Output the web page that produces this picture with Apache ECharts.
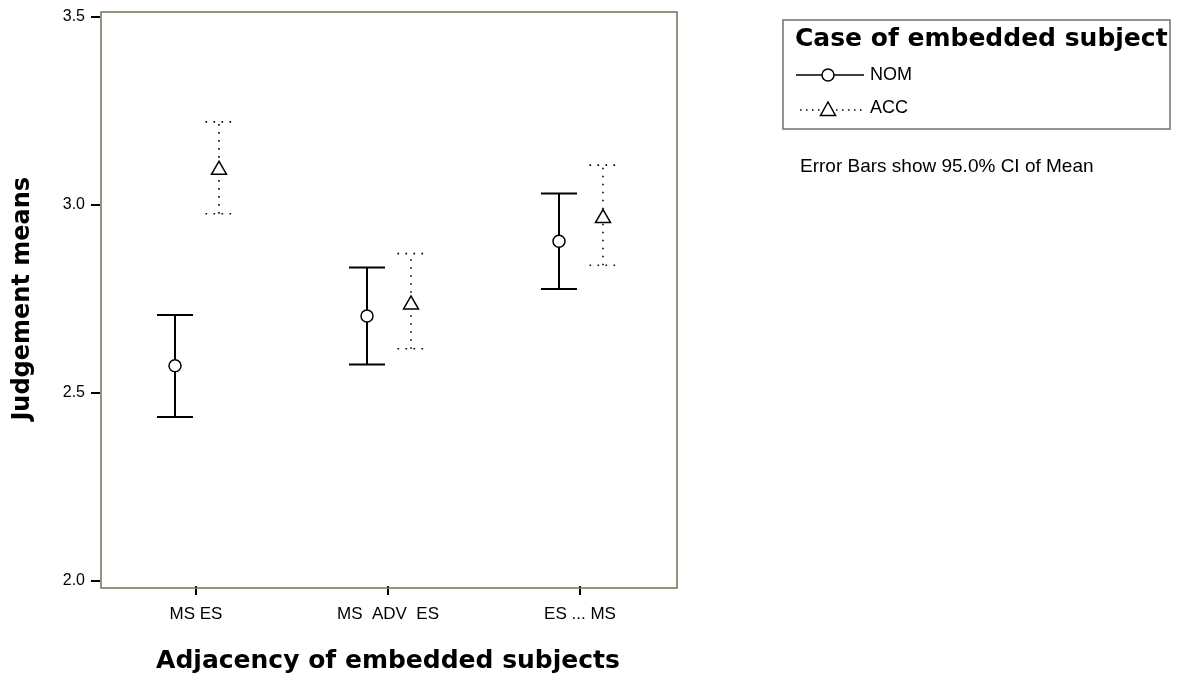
<!DOCTYPE html>
<html>
<head>
<meta charset="utf-8">
<script src="https://cdn.jsdelivr.net/npm/echarts@6/dist/echarts.min.js"></script>
<style>html,body{margin:0;padding:0;background:#fff;}#c{width:1197px;height:679px;}</style>
</head>
<body>
<div id="c"></div>
<script>
var categories = ['MS ES', 'MS  ADV  ES', 'ES ... MS'];
var nomMean = [2.572, 2.704, 2.903];
var nomLow  = [2.436, 2.575, 2.776];
var nomHigh = [2.707, 2.833, 3.030];
var accMean = [3.098, 2.740, 2.970];
var accLow  = [2.976, 2.617, 2.839];
var accHigh = [3.220, 2.870, 3.105];
var yTicks = [2.0, 2.5, 3.0, 3.5];
var seriesNames = ['NOM', 'ACC'];
var legendTitle = 'Case of embedded subject';
var noteText = 'Error Bars show 95.0% CI of Mean';
var xTitle = 'Adjacency of embedded subjects';
var yTitle = 'Judgement means';

var chart = echarts.init(document.getElementById('c'), null, {renderer: 'canvas'});

function errRender(offset, dashed, capHalf) {
  return function (params, api) {
    var lo = api.coord([api.value(0), api.value(1)]);
    var hi = api.coord([api.value(0), api.value(2)]);
    var cx = lo[0] + offset;
    var style = {stroke: '#000', lineWidth: dashed ? 1.6 : 2, fill: null};
    if (dashed) style.lineDash = [1.6, 6.4];
    return {type: 'group', children: [
      {type: 'line', shape: {x1: cx, y1: lo[1], x2: cx, y2: hi[1]}, style: style},
      {type: 'line', shape: {x1: cx - capHalf, y1: hi[1], x2: cx + capHalf, y2: hi[1]}, style: style},
      {type: 'line', shape: {x1: cx - capHalf, y1: lo[1], x2: cx + capHalf, y2: lo[1]}, style: style}
    ]};
  };
}

var smallFont = '"Liberation Sans", Arial, sans-serif';
var boldFont = '"DejaVu Sans", sans-serif';

var option = {
  animation: false,
  backgroundColor: '#fff',
  grid: {left: 100, right: 521, top: 16.5, bottom: 96, containLabel: false},
  xAxis: {
    type: 'category',
    data: categories,
    offset: 5,
    boundaryGap: true,
    axisLine: {show: false},
    axisTick: {show: true, alignWithLabel: true, length: 9, lineStyle: {color: '#000', width: 2}},
    axisLabel: {margin: 20, color: '#000', fontSize: 17, fontFamily: smallFont},
    splitLine: {show: false},
    name: xTitle,
    nameLocation: 'middle',
    nameGap: 63,
    nameTextStyle: {fontSize: 25, fontWeight: 'bold', fontFamily: boldFont, color: '#000'}
  },
  yAxis: {
    type: 'value',
    min: 2.0, max: 3.5, interval: 0.5,
    axisLine: {show: false},
    axisTick: {show: true, length: 9, lineStyle: {color: '#000', width: 2}},
    axisLabel: {margin: 15, color: '#000', fontSize: 16, fontFamily: smallFont,
      formatter: function (v) { return v.toFixed(1); }},
    splitLine: {show: false},
    name: yTitle,
    nameLocation: 'middle',
    nameRotate: 90,
    nameGap: 65,
    nameTextStyle: {fontSize: 24, fontWeight: 'bold', fontFamily: boldFont, color: '#000'}
  },
  series: [
    {type: 'custom', name: 'NOM CI', renderItem: errRender(-21, false, 18),
      data: categories.map(function (c, i) { return [i, nomLow[i], nomHigh[i]]; }), z: 2},
    {type: 'custom', name: 'ACC CI', renderItem: errRender(23, true, 13.5),
      data: categories.map(function (c, i) { return [i, accLow[i], accHigh[i]]; }), z: 2},
    {type: 'scatter', name: seriesNames[0], data: nomMean, symbol: 'circle', symbolSize: 12,
      symbolOffset: [-21, 0], itemStyle: {color: '#fff', borderColor: '#000', borderWidth: 1.5, opacity: 1}, z: 5},
    {type: 'scatter', name: seriesNames[1], data: accMean, symbol: 'triangle', symbolSize: [15, 13],
      symbolOffset: [23, 0], itemStyle: {color: '#fff', borderColor: '#000', borderWidth: 1.5, opacity: 1}, z: 5}
  ],
  graphic: [
    {type: 'rect', shape: {x: 101, y: 12, width: 576, height: 576}, z: 1,
      style: {fill: null, stroke: '#72725a', lineWidth: 1.5}},
    {type: 'rect', shape: {x: 783, y: 20, width: 387, height: 109}, z: 1,
      style: {fill: '#fff', stroke: '#707070', lineWidth: 1.5}},
    {type: 'text', x: 795, y: 39, z: 3, style: {text: legendTitle, font: 'bold 25px ' + boldFont, fill: '#000', verticalAlign: 'middle'}},
    {type: 'line', shape: {x1: 796, y1: 75, x2: 864, y2: 75}, z: 3, style: {stroke: '#000', lineWidth: 1.5}},
    {type: 'circle', shape: {cx: 828, cy: 75, r: 6}, z: 4, style: {fill: '#fff', stroke: '#000', lineWidth: 1.5}},
    {type: 'text', x: 870, y: 75, z: 3, style: {text: seriesNames[0], font: '18px ' + smallFont, fill: '#000', verticalAlign: 'middle'}},
    {type: 'line', shape: {x1: 800, y1: 110, x2: 864, y2: 110}, z: 3, style: {stroke: '#000', lineWidth: 1.5, lineDash: [1.5, 4.5]}},
    {type: 'polygon', shape: {points: [[828, 102], [820.5, 115.5], [835.5, 115.5]]}, z: 4, style: {fill: '#fff', stroke: '#000', lineWidth: 1.5}},
    {type: 'text', x: 870, y: 108, z: 3, style: {text: seriesNames[1], font: '18px ' + smallFont, fill: '#000', verticalAlign: 'middle'}},
    {type: 'text', x: 800, y: 167, z: 3, style: {text: noteText, font: '19px ' + smallFont, fill: '#000', verticalAlign: 'middle'}}
  ]
};
chart.setOption(option);
</script>
</body>
</html>
